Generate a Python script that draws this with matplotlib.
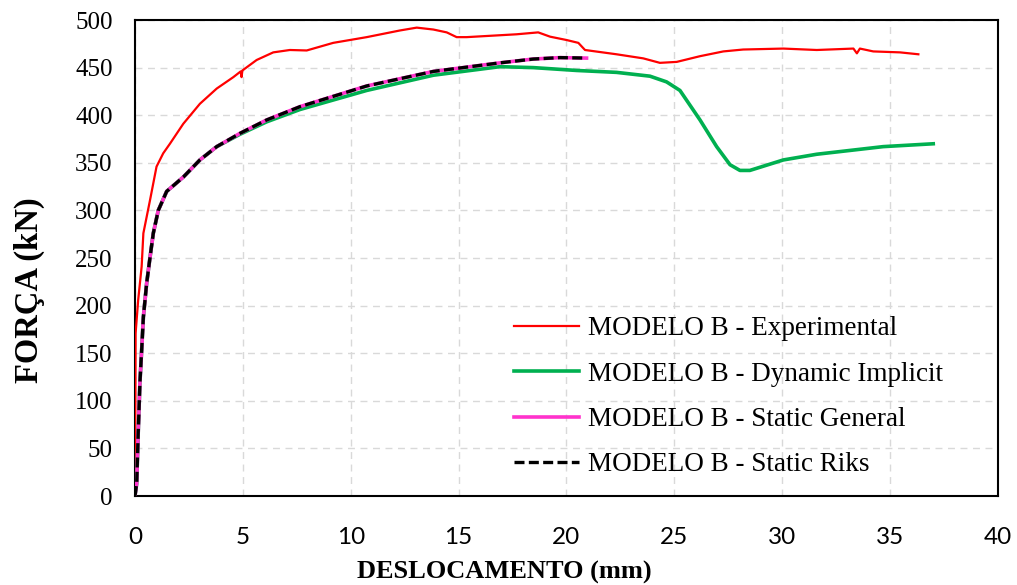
import numpy as np
import matplotlib
matplotlib.use("Agg")
import matplotlib.pyplot as plt

# MODELO B - Experimental
exp_x = [0.0, 0.02, 0.03, 0.15, 0.31, 0.39, 0.70, 1.00, 1.31, 1.62, 2.24, 3.01, 3.79, 4.56,
         4.90, 4.94, 4.98, 5.64, 6.41, 7.18, 7.96, 9.19, 10.74, 12.28, 13.06, 13.83, 14.45,
         14.91, 15.37, 16.92, 17.69, 18.69, 19.24, 20.00, 20.55, 20.86, 22.32, 23.56, 24.33,
         25.11, 26.19, 27.27, 28.19, 30.05, 31.60, 33.30, 33.46, 33.60, 34.22, 35.46, 36.31]
exp_y = [0, 100, 171, 206, 241, 276, 311, 346, 360, 370, 391, 412, 428, 440,
         446, 440, 447, 458, 466, 468.5, 468, 476, 482, 489, 492, 490, 487,
         482, 482, 484, 485, 487, 482.5, 479, 476, 468.5, 464, 459.7, 455,
         456, 462, 467, 469, 470, 468.5, 470, 465, 470, 467, 466, 464]

# MODELO B - Dynamic Implicit
dyn_x = [0.0, 0.08, 0.15, 0.23, 0.31, 0.39, 0.54, 0.70, 0.85, 1.08, 1.47, 2.24, 3.01, 3.79,
         4.87, 6.10, 7.65, 10.74, 13.83, 16.92, 18.46, 20.47, 22.32, 23.87, 24.64, 25.26,
         26.19, 26.96, 27.58, 28.04, 28.50, 30.05, 31.60, 33.14, 34.68, 37.00]
dyn_y = [0, 13, 66, 119, 153, 188, 223, 251, 276, 300, 320, 335, 353, 367,
         380, 393, 406, 426, 442, 451, 450, 447, 445, 441, 435, 426,
         395, 367, 348, 342, 342, 353, 359, 363, 367, 370]

# MODELO B - Static General
gen_x = [0.0, 0.08, 0.15, 0.23, 0.31, 0.39, 0.54, 0.70, 0.85, 1.08, 1.47, 2.24, 3.01, 3.79,
         4.87, 6.10, 7.65, 10.74, 13.83, 16.92, 18.46, 19.70, 20.93]
gen_y = [0, 13, 66, 119, 153, 188, 223, 251, 276, 300, 320, 335, 353, 367,
         381, 395, 409, 430.7, 446, 455, 459, 460.5, 460]

# MODELO B - Static Riks
riks_x = list(gen_x)
riks_y = list(gen_y)

x_ticks = [0, 5, 10, 15, 20, 25, 30, 35, 40]
y_ticks = [0, 50, 100, 150, 200, 250, 300, 350, 400, 450, 500]

serif = "Liberation Serif"

fig = plt.figure(figsize=(10.17, 5.85), dpi=100)
ax = fig.add_axes([0.1327, 0.1521, 0.8486, 0.8137])

ax.plot(exp_x, exp_y, color="#ff0000", lw=1.6, label="MODELO B - Experimental", zorder=3)
ax.plot(dyn_x, dyn_y, color="#00b050", lw=2.6, label="MODELO B - Dynamic Implicit", zorder=3)
ax.plot(gen_x, gen_y, color="#ff33cc", lw=2.6, label="MODELO B - Static General", zorder=4)
ax.plot(riks_x, riks_y, color="black", lw=2.4, ls=(0, (3, 1.3)), label="MODELO B - Static Riks", zorder=5)

ax.set_xlim(0, 40)
ax.set_ylim(0, 500)
ax.set_xticks(x_ticks, labels=[str(v) for v in x_ticks], fontfamily="Lato", fontsize=17.5)
ax.set_yticks(y_ticks, labels=[str(v) for v in y_ticks], fontfamily=serif, fontsize=18)
ax.grid(True, color="#d9d9d9", ls=(0, (5, 4)), lw=1.0, zorder=0)
ax.set_axisbelow(True)

for s in ax.spines.values():
    s.set_color("black")
    s.set_linewidth(1.5)

ax.tick_params(axis="both", length=0)
ax.tick_params(axis="x", pad=22)
ax.tick_params(axis="y", pad=16)

ax.set_xlabel("DESLOCAMENTO (mm)", fontfamily=serif, fontweight="bold", fontsize=19)
ax.set_ylabel("FORÇA (kN)", fontfamily=serif, fontweight="bold", fontsize=23.5)
ax.xaxis.set_label_coords(0.428, -0.137)
ax.yaxis.set_label_coords(-0.104, 0.433)

leg = ax.legend(loc="lower right", bbox_to_anchor=(0.964, -0.012), frameon=False,
                prop={"family": serif, "size": 19.5}, handlelength=2.4, handletextpad=0.3,
                labelspacing=0.75)

fig.savefig("out.png", dpi=100)
